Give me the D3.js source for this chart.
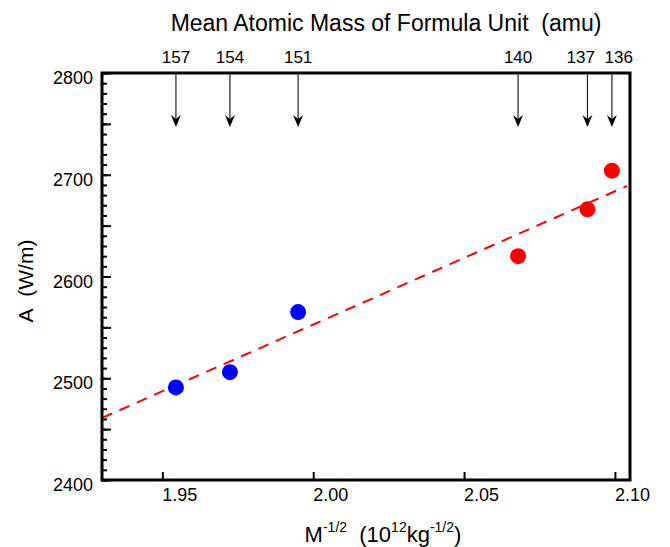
<!DOCTYPE html>
<html>
<head>
<meta charset="utf-8">
<script src="https://cdn.jsdelivr.net/npm/d3@7"></script>
<style>
  html, body { margin: 0; padding: 0; background: #fff; }
  text { font-family: "Liberation Sans", Arial, Helvetica, sans-serif; fill: #000; }
</style>
</head>
<body>
<svg id="chart" width="670" height="547"></svg>
<script>
// ---- data ----
const massLabels = ["157", "154", "151", "140", "137", "136"];
const xValues = [1.9545, 1.9724, 1.9950, 2.0679, 2.0909, 2.0990];   // M^-1/2 (10^12 kg^-1/2)
const aValues = [2491, 2506, 2565, 2620, 2666, 2704];               // A (W/m)
const groups = ["blue", "blue", "blue", "red", "red", "red"];
const fitX = [1.930, 2.104];
const fitA = [2461, 2689];
const xTickValues = [1.95, 2.00, 2.05, 2.10];
const xTickLabels = ["1.95", "2.00", "2.05", "2.10"];
const yMajorTicks = [2400, 2450, 2500, 2550, 2600, 2650, 2700, 2750, 2800];
const yLabelTicks = [2400, 2500, 2600, 2700, 2800];
const yMinorTicks = d3.range(2400, 2801, 10);

// ---- layout ----
const L = 102, R = 630, T = 73, B = 480;
const svg = d3.select("#chart");
const x = d3.scaleLinear().domain([1.930, 2.105]).range([L, R]);
const y = d3.scaleLinear().domain([2400, 2800]).range([B, T]);
const color = { blue: "#0000ff", red: "#ff0000" };
const NB = "\u00a0";

// y minor ticks
const yMinor = svg.append("g").attr("transform", `translate(${L},0)`)
  .call(d3.axisLeft(y).tickValues(yMinorTicks).tickSize(-5).tickFormat(""));
yMinor.select(".domain").remove();
yMinor.selectAll("line").attr("stroke", "#000").attr("stroke-width", 2);

// y major ticks
const yMajor = svg.append("g").attr("transform", `translate(${L},0)`)
  .call(d3.axisLeft(y).tickValues(yMajorTicks).tickSize(-9)
    .tickFormat(d => yLabelTicks.includes(d) ? String(d) : ""));
yMajor.select(".domain").remove();
yMajor.selectAll("line").attr("stroke", "#000").attr("stroke-width", 2);
yMajor.selectAll("text")
  .attr("x", -9).attr("dy", null).attr("y", 10.5)
  .attr("text-anchor", "end")
  .style("font-size", "18px").style("font-family", '"Liberation Sans", Arial, sans-serif');

// x ticks
const xAxis = svg.append("g").attr("transform", `translate(0,${B})`)
  .call(d3.axisBottom(x).tickValues(xTickValues).tickSize(-8)
    .tickFormat((d, i) => xTickLabels[i]));
xAxis.select(".domain").remove();
xAxis.selectAll("line").attr("stroke", "#000").attr("stroke-width", 2);
xAxis.selectAll("text")
  .attr("y", 21).attr("dy", null).attr("x", 17)
  .attr("text-anchor", "middle")
  .style("font-size", "18px").style("font-family", '"Liberation Sans", Arial, sans-serif');

// fit line (dashed)
svg.append("line")
  .attr("x1", x(fitX[0])).attr("y1", y(fitA[0]))
  .attr("x2", x(fitX[1])).attr("y2", y(fitA[1]))
  .attr("stroke", "#ff0000").attr("stroke-width", 2)
  .attr("stroke-dasharray", "11,8");

// points
svg.append("g").selectAll("circle")
  .data(xValues.map((v, i) => ({ x: v, a: aValues[i], g: groups[i] })))
  .join("circle")
  .attr("cx", d => x(d.x)).attr("cy", d => y(d.a)).attr("r", 8)
  .attr("fill", d => color[d.g]);

// frame
svg.append("rect").attr("x", L).attr("y", T).attr("width", R - L).attr("height", B - T)
  .attr("fill", "none").attr("stroke", "#000").attr("stroke-width", 3);

// arrows
const arrowTip = 127;
const ag = svg.append("g");
xValues.forEach(v => {
  const px = x(v);
  ag.append("line").attr("x1", px).attr("x2", px).attr("y1", T + 1.5).attr("y2", arrowTip - 4)
    .attr("stroke", "#222").attr("stroke-width", 1.2);
  ag.append("path")
    .attr("d", `M${px},${arrowTip} L${px - 5},${arrowTip - 12} L${px},${arrowTip - 8} L${px + 5},${arrowTip - 12} Z`)
    .attr("fill", "#000");
});

// arrow labels with simple de-overlap
const lx = xValues.map(v => x(v));
const minGap = 38;
for (let i = 1; i < lx.length; i++) {
  const d = lx[i] - lx[i - 1];
  if (d < minGap) {
    const push = (minGap - d) / 2;
    lx[i - 1] -= push; lx[i] += push;
  }
}
svg.append("g").selectAll("text").data(massLabels).join("text")
  .attr("x", (d, i) => lx[i]).attr("y", 63)
  .attr("text-anchor", "middle").style("font-size", "17px")
  .text(d => d);

// titles
svg.append("text").attr("x", 386).attr("y", 31).attr("text-anchor", "middle")
  .style("font-size", "23px").text("Mean Atomic Mass of Formula Unit" + NB + NB + "(amu)");

svg.append("text").attr("transform", "translate(33,281) rotate(-90)")
  .attr("text-anchor", "middle").style("font-size", "21px")
  .text("A" + NB + NB + "(W/m)");

const xt = svg.append("text").attr("x", 383).attr("y", 542).attr("text-anchor", "middle")
  .style("font-size", "22px");
xt.append("tspan").text("M");
xt.append("tspan").attr("dy", -10).style("font-size", "14px").text("-1/2");
xt.append("tspan").attr("dy", 10).text(NB + NB + "(10");
xt.append("tspan").attr("dy", -10).style("font-size", "14px").text("12");
xt.append("tspan").attr("dy", 10).text("kg");
xt.append("tspan").attr("dy", -10).style("font-size", "14px").text("-1/2");
xt.append("tspan").attr("dy", 10).text(")");
</script>
</body>
</html>
